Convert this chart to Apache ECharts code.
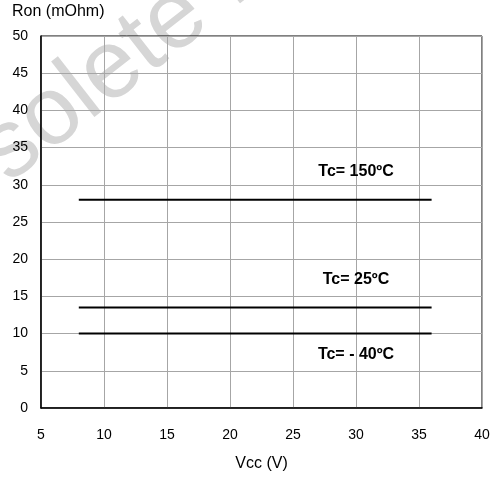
<!DOCTYPE html>
<html>
<head>
<meta charset="utf-8">
<script src="https://cdn.jsdelivr.net/npm/echarts@6/dist/echarts.min.js"></script>
<style>html,body{margin:0;padding:0;background:#fff}#c{width:499px;height:477px}</style>
</head>
<body>
<div id="c"></div>
<script>
// Data
const seriesNames = ['Tc= 150ºC', 'Tc= 25ºC', 'Tc= - 40ºC'];
const vccRange = [8, 36];
const ronValues = [28, 13.5, 10];
const xTicks = [5, 10, 15, 20, 25, 30, 35, 40];
const yTicks = [0, 5, 10, 15, 20, 25, 30, 35, 40, 45, 50];

// label anchors (data coords) for the annotations
const labelAnchors = [[30, 31.8], [30, 17.2], [30, 7.2]];

const chart = echarts.init(document.getElementById('c'), null, {renderer: 'canvas'});
const font = 'Liberation Sans, Arial, sans-serif';

const lineSeries = seriesNames.map((n, i) => ({
  name: n,
  type: 'line',
  data: vccRange.map(v => [v, ronValues[i]]),
  symbol: 'none',
  lineStyle: {color: '#000', width: 2},
  z: 5
}));

const labelSeries = {
  type: 'scatter',
  symbolSize: 0,
  data: labelAnchors.map((p, i) => ({value: p, name: seriesNames[i]})),
  label: {
    show: true, position: 'inside', formatter: p => p.name,
    color: '#000', fontWeight: 'bold', fontSize: 16, fontFamily: font
  },
  itemStyle: {opacity: 1},
  silent: true, z: 6
};

chart.setOption({
  animation: false,
  backgroundColor: '#fff',
  graphic: [
    {
      type: 'text', silent: true, z: -10,
      x: -80, y: 281, rotation: 38 * Math.PI / 180,
      style: {text: 'Obsolete Product(s)', fill: '#d6d6d6', font: '97px Liberation Sans, Arial, sans-serif', textAlign: 'left', textVerticalAlign: 'bottom'}
    },
    {
      type: 'text', left: 12, top: 4,
      style: {text: 'Ron (mOhm)', fill: '#000', font: '16px Liberation Sans, Arial, sans-serif'}
    }
  ],
  grid: {left: 41, right: 17, top: 36, bottom: 68, show: true, borderColor: '#000', borderWidth: 1, backgroundColor: 'transparent'},
  xAxis: {
    type: 'value', min: xTicks[0], max: xTicks[xTicks.length - 1], interval: 5,
    name: 'Vcc (V)', nameLocation: 'middle', nameGap: 48,
    nameTextStyle: {color: '#000', fontSize: 16, fontFamily: font},
    axisLine: {show: true, lineStyle: {color: '#000', width: 1.5}},
    axisTick: {show: false},
    axisLabel: {color: '#000', fontSize: 14, fontFamily: font, margin: 20},
    splitLine: {show: true, lineStyle: {color: '#a6a6a6', width: 1}}
  },
  yAxis: {
    type: 'value', min: yTicks[0], max: yTicks[yTicks.length - 1], interval: 5,
    axisLine: {show: true, lineStyle: {color: '#000', width: 1.5}},
    axisTick: {show: false},
    axisLabel: {color: '#000', fontSize: 14, fontFamily: font, margin: 13},
    splitLine: {show: true, lineStyle: {color: '#a6a6a6', width: 1}}
  },
  series: [...lineSeries, labelSeries]
});
</script>
</body>
</html>
